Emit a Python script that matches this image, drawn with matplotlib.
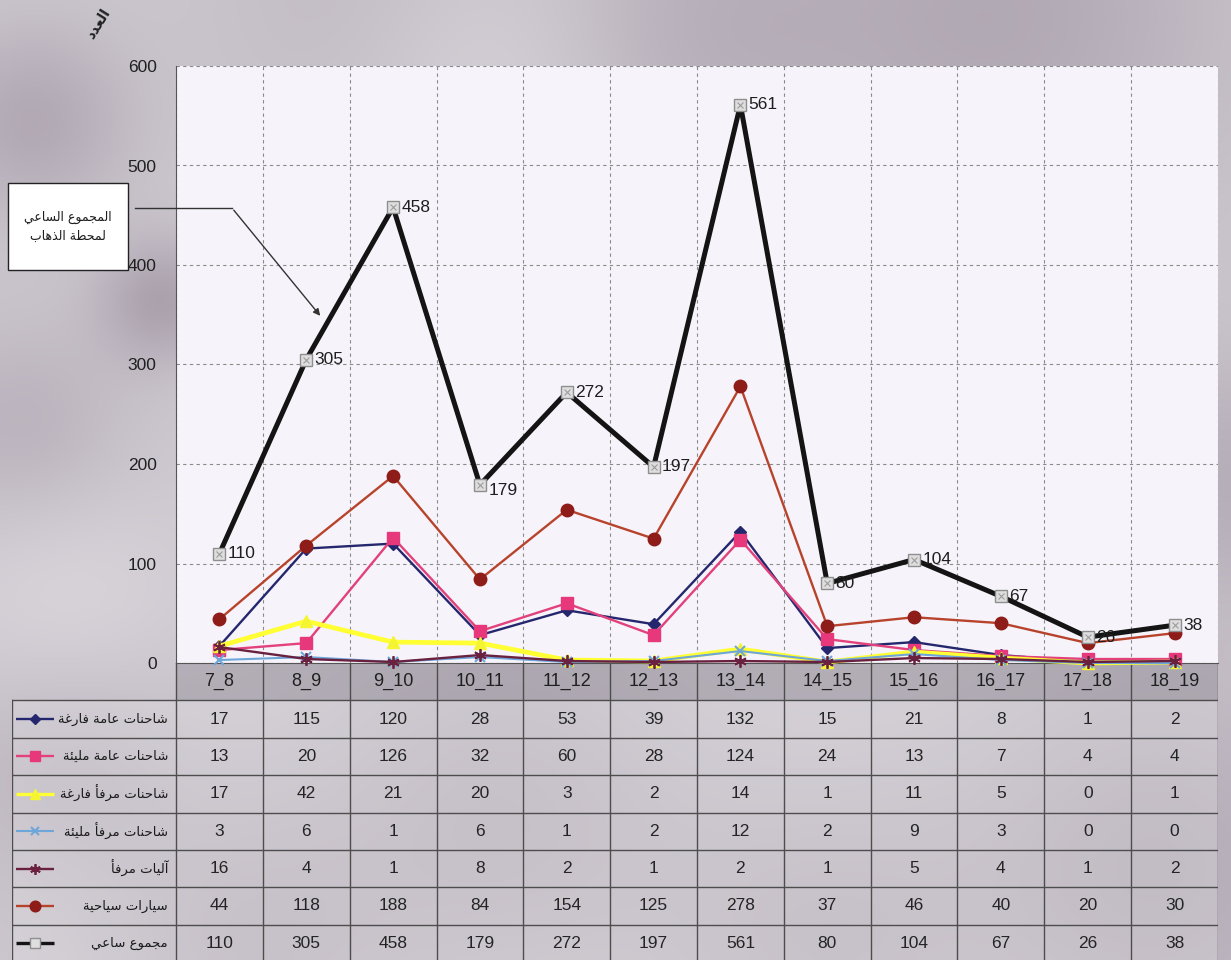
import numpy as np
import matplotlib
matplotlib.use("Agg")
import matplotlib.pyplot as plt
from matplotlib.lines import Line2D
from matplotlib.patches import Rectangle, FancyArrowPatch

# ---------------------------------------------------------------- data
hours = ["7_8", "8_9", "9_10", "10_11", "11_12", "12_13",
         "13_14", "14_15", "15_16", "16_17", "17_18", "18_19"]

empty_general = [17, 115, 120, 28, 53, 39, 132, 15, 21, 8, 1, 2]
full_general = [13, 20, 126, 32, 60, 28, 124, 24, 13, 7, 4, 4]
empty_port = [17, 42, 21, 20, 3, 2, 14, 1, 11, 5, 0, 1]
full_port = [3, 6, 1, 6, 1, 2, 12, 2, 9, 3, 0, 0]
port_machines = [16, 4, 1, 8, 2, 1, 2, 1, 5, 4, 1, 2]
cars = [44, 118, 188, 84, 154, 125, 278, 37, 46, 40, 20, 30]
hourly_total = [110, 305, 458, 179, 272, 197, 561, 80, 104, 67, 26, 38]

series_names = ["شاحنات عامة فارغة", "شاحنات عامة مليئة", "شاحنات مرفأ فارغة",
                "شاحنات مرفأ مليئة", "آليات مرفأ", "سيارات سياحية", "مجموع ساعي"]
y_ticks = [0, 100, 200, 300, 400, 500, 600]
y_label = "العدد"
callout_lines = ["المجموع الساعي", "لمحطة الذهاب"]

series_values = [empty_general, full_general, empty_port, full_port,
                 port_machines, cars, hourly_total]

# ---------------------------------------------------------------- styles
styles = [
    dict(color="#25276e", lw=1.7, marker="D", ms=6, mfc="#25276e", mec="#25276e"),
    dict(color="#e2417c", lw=1.7, marker="s", ms=8, mfc="#e6387a", mec="#e6387a"),
    dict(color="#ffff33", lw=3.4, marker="^", ms=9, mfc="#f4f430", mec="#f4f430"),
    dict(color="#6ea6da", lw=1.5, marker="x", ms=7, mfc="#6ea6da", mec="#6ea6da", mew=1.5),
    dict(color="#6a2140", lw=1.7, marker=(6, 2, 0), ms=9, mfc="#6a2140", mec="#6a2140", mew=1.3),
    dict(color="#b8432c", lw=1.7, marker="o", ms=9, mfc="#8e1c18", mec="#8e1c18"),
    dict(color="#141414", lw=3.6, marker="s", ms=8, mfc="#dedede", mec="#8e8e8e", mew=1.0),
]

NUM_FONT = ["Liberation Sans Narrow", "Liberation Sans", "DejaVu Sans"]
AR_FONT = ["DejaVu Sans"]

# ---------------------------------------------------------------- arabic shaping
_FORMS = {
    "\u0621": (0xFE80, 1), "\u0622": (0xFE81, 2), "\u0623": (0xFE83, 2),
    "\u0624": (0xFE85, 2), "\u0625": (0xFE87, 2), "\u0626": (0xFE89, 4),
    "\u0627": (0xFE8D, 2), "\u0628": (0xFE8F, 4), "\u0629": (0xFE93, 2),
    "\u062A": (0xFE95, 4), "\u062B": (0xFE99, 4), "\u062C": (0xFE9D, 4),
    "\u062D": (0xFEA1, 4), "\u062E": (0xFEA5, 4), "\u062F": (0xFEA9, 2),
    "\u0630": (0xFEAB, 2), "\u0631": (0xFEAD, 2), "\u0632": (0xFEAF, 2),
    "\u0633": (0xFEB1, 4), "\u0634": (0xFEB5, 4), "\u0635": (0xFEB9, 4),
    "\u0636": (0xFEBD, 4), "\u0637": (0xFEC1, 4), "\u0638": (0xFEC5, 4),
    "\u0639": (0xFEC9, 4), "\u063A": (0xFECD, 4), "\u0641": (0xFED1, 4),
    "\u0642": (0xFED5, 4), "\u0643": (0xFED9, 4), "\u0644": (0xFEDD, 4),
    "\u0645": (0xFEE1, 4), "\u0646": (0xFEE5, 4), "\u0647": (0xFEE9, 4),
    "\u0648": (0xFEED, 2), "\u0649": (0xFEEF, 2), "\u064A": (0xFEF1, 4),
}
_LAM_ALEF = {"\u0622": 0xFEF5, "\u0623": 0xFEF7, "\u0625": 0xFEF9, "\u0627": 0xFEFB}


def _shape_line(text):
    chars, i = [], 0
    while i < len(text):
        c = text[i]
        if c == "\u0644" and i + 1 < len(text) and text[i + 1] in _LAM_ALEF:
            chars.append(("LA", text[i + 1]))
            i += 2
        else:
            chars.append(c)
            i += 1

    def joins(c):
        if isinstance(c, tuple):
            return 2
        return _FORMS.get(c, (None, 0))[1]

    out = []
    for k, c in enumerate(chars):
        prev = chars[k - 1] if k > 0 else None
        nxt = chars[k + 1] if k + 1 < len(chars) else None
        jp = prev is not None and joins(prev) == 4 and joins(c) >= 2
        jn = nxt is not None and joins(c) == 4 and joins(nxt) >= 2
        if isinstance(c, tuple):
            out.append(chr(_LAM_ALEF[c[1]] + (1 if jp else 0)))
            continue
        if c not in _FORMS:
            out.append(c)
            continue
        base, n = _FORMS[c]
        if n == 4:
            off = 3 if (jp and jn) else 2 if jn else 1 if jp else 0
        elif n == 2:
            off = 1 if jp else 0
        else:
            off = 0
        out.append(chr(base + off))
    return "".join(reversed(out))


def ar(text):
    return "\n".join(_shape_line(line) for line in text.split("\n"))


# ---------------------------------------------------------------- figure
W, H = 1231, 960
fig = plt.figure(figsize=(W / 100, H / 100), dpi=100)


def fx(px):
    return px / W


def fy(py):
    return 1 - py / H


# marbled backdrop
bg = fig.add_axes([0, 0, 1, 1], zorder=-10)
gx, gy = np.meshgrid(np.linspace(0, W, 250), np.linspace(0, H, 200))
shade = np.zeros_like(gx)
for cx, cy, r, s in [(30, 120, 70, 0.5), (160, 300, 45, 0.6), (20, 430, 80, 0.35),
                     (1000, 15, 170, 0.5), (700, 25, 110, 0.3), (1230, 480, 90, 0.4),
                     (500, 820, 140, 0.35), (1160, 870, 150, 0.45), (240, 950, 110, 0.3),
                     (60, 760, 90, 0.3), (820, 940, 120, 0.3), (350, 0, 120, 0.2)]:
    shade += s * np.exp(-((gx - cx) ** 2 + (gy - cy) ** 2) / (2 * r ** 2))
for cx, cy, r, s in [(60, 600, 90, 0.25), (480, 70, 90, 0.2)]:
    shade -= s * np.exp(-((gx - cx) ** 2 + (gy - cy) ** 2) / (2 * r ** 2))
shade = np.clip(shade, -0.4, 1.0)
light = np.array([206, 201, 208]) / 255
dark = np.array([150, 138, 154]) / 255
lighter = np.array([226, 223, 227]) / 255
img = np.where(shade[..., None] >= 0,
               light + (dark - light) * shade[..., None],
               light + (lighter - light) * (-shade[..., None]) / 0.4)
bg.imshow(img, extent=(0, W, H, 0), aspect="auto", interpolation="bicubic")
bg.set_xlim(0, W)
bg.set_ylim(H, 0)
bg.axis("off")

# ---------------------------------------------------------------- chart
x = np.arange(len(hours))
ax = fig.add_axes([fx(176), fy(663), fx(1218) - fx(176), fy(66) - fy(663)])
ax.set_facecolor("#f6f4fa")
ax.set_xlim(-0.5, len(hours) - 0.5)
ax.set_ylim(0, 600)

ax.set_yticks(y_ticks)
ax.set_yticklabels([str(t) for t in y_ticks], family=NUM_FONT, fontsize=12.5, color="#202020")
ax.set_xticks(x)
ax.set_xticklabels([])
ax.set_xticks(np.arange(-0.5, len(hours), 1.0), minor=True)
ax.tick_params(axis="both", which="both", length=0)
ax.tick_params(axis="y", pad=14)
ax.grid(True, which="major", axis="y", ls=(0, (3, 3)), color="#8a8a8a", lw=0.8)
ax.grid(True, which="minor", axis="x", ls=(0, (3, 3)), color="#8a8a8a", lw=0.8)
ax.grid(False, which="major", axis="x")
for side in ("top", "right"):
    ax.spines[side].set_visible(False)
ax.spines["left"].set_color("#555555")
ax.spines["bottom"].set_color("#555555")

for i, (vals, st) in enumerate(zip(series_values, styles)):
    ax.plot(x, vals, clip_on=False, zorder=3 + i, **st)
# light cross inside the hourly-total markers
ax.plot(x, hourly_total, ls="none", marker="x", ms=5, mec="#9c9c9c", mew=0.8,
        clip_on=False, zorder=11)

for i, v in enumerate(hourly_total):
    dy = -4 if v == 179 else 0
    ax.annotate(str(v), (i, v), xytext=(6, dy), textcoords="offset points",
                ha="left", va="center", family=NUM_FONT, fontsize=12.5,
                color="#1e1e1e", zorder=12)

# ---------------------------------------------------------------- data table
col_w = (1218 - 176) / len(hours)
tab_left = -0.5 - (176 - 12) / col_w
tax = fig.add_axes([fx(12), fy(962), fx(1218) - fx(12), fy(663) - fy(962)], zorder=-5)
tax.set_xlim(tab_left, len(hours) - 0.5)
n_rows = len(series_values) + 1
tax.set_ylim(n_rows, 0)
tax.axis("off")
tax.patch.set_alpha(0)

# header band and body cells
tax.add_patch(Rectangle((-0.5, 0), len(hours), 1, facecolor="#8c8792", alpha=0.38, lw=0))
tax.add_patch(Rectangle((tab_left, 1), len(hours) - 0.5 - tab_left, n_rows - 1,
                        facecolor="white", alpha=0.2, lw=0))
grid_kw = dict(color="#4d4d4d", lw=1.0)
for r in range(1, n_rows + 1):
    tax.plot([tab_left, len(hours) - 0.5], [r, r], **grid_kw)
for c in range(len(hours) + 1):
    tax.plot([c - 0.5, c - 0.5], [0, n_rows], **grid_kw)
tax.plot([tab_left, tab_left], [1, n_rows], **grid_kw)

for j, h in enumerate(hours):
    tax.text(j, 0.5, h, ha="center", va="center", family=NUM_FONT, fontsize=13, color="#202020")
for r, (name, vals, st) in enumerate(zip(series_names, series_values, styles), start=1):
    yc = r + 0.5
    for j, v in enumerate(vals):
        tax.text(j, yc, str(v), ha="center", va="center", family=NUM_FONT,
                 fontsize=12.5, color="#242424")
    tax.text(-0.5 - 8 / col_w, yc, ar(name), ha="right", va="center", family=AR_FONT,
             fontsize=9.5, color="#1a1a1a")
    gx0, gx1 = tab_left + 4 / col_w, tab_left + 42 / col_w
    tax.plot([gx0, gx1], [yc, yc], color=st["color"], lw=min(st["lw"], 2.4),
             solid_capstyle="butt")
    tax.plot([(gx0 + gx1) / 2], [yc], ls="none", marker=st["marker"], ms=st["ms"] * 0.85,
             mfc=st["mfc"], mec=st["mec"], mew=st.get("mew", 1.0))

# ---------------------------------------------------------------- axis caption and callout
fig.text(fx(98), fy(24), ar(y_label), rotation=58, ha="center", va="center",
         family=AR_FONT, fontsize=10, fontweight="bold", color="#222222")

fig.patches.append(Rectangle((fx(8), fy(270)), fx(128) - fx(8), fy(183) - fy(270),
                             transform=fig.transFigure, facecolor="white",
                             edgecolor="#222222", lw=1.0, zorder=20))
fig.text(fx(68), fy(227), ar("\n".join(callout_lines)), ha="center", va="center",
         family=AR_FONT, fontsize=9, color="#1e1e1e", linespacing=1.6, zorder=21)
fig.lines.append(Line2D([fx(135), fx(232)], [fy(208), fy(208)],
                        transform=fig.transFigure, color="#333333", lw=1.0, zorder=20))
fig.patches.append(FancyArrowPatch((fx(232), fy(208)), (fx(322), fy(318)),
                                   transform=fig.transFigure, arrowstyle="-|>",
                                   mutation_scale=10, color="#333333", lw=1.0, zorder=20))

fig.savefig("out.png", dpi=100)
